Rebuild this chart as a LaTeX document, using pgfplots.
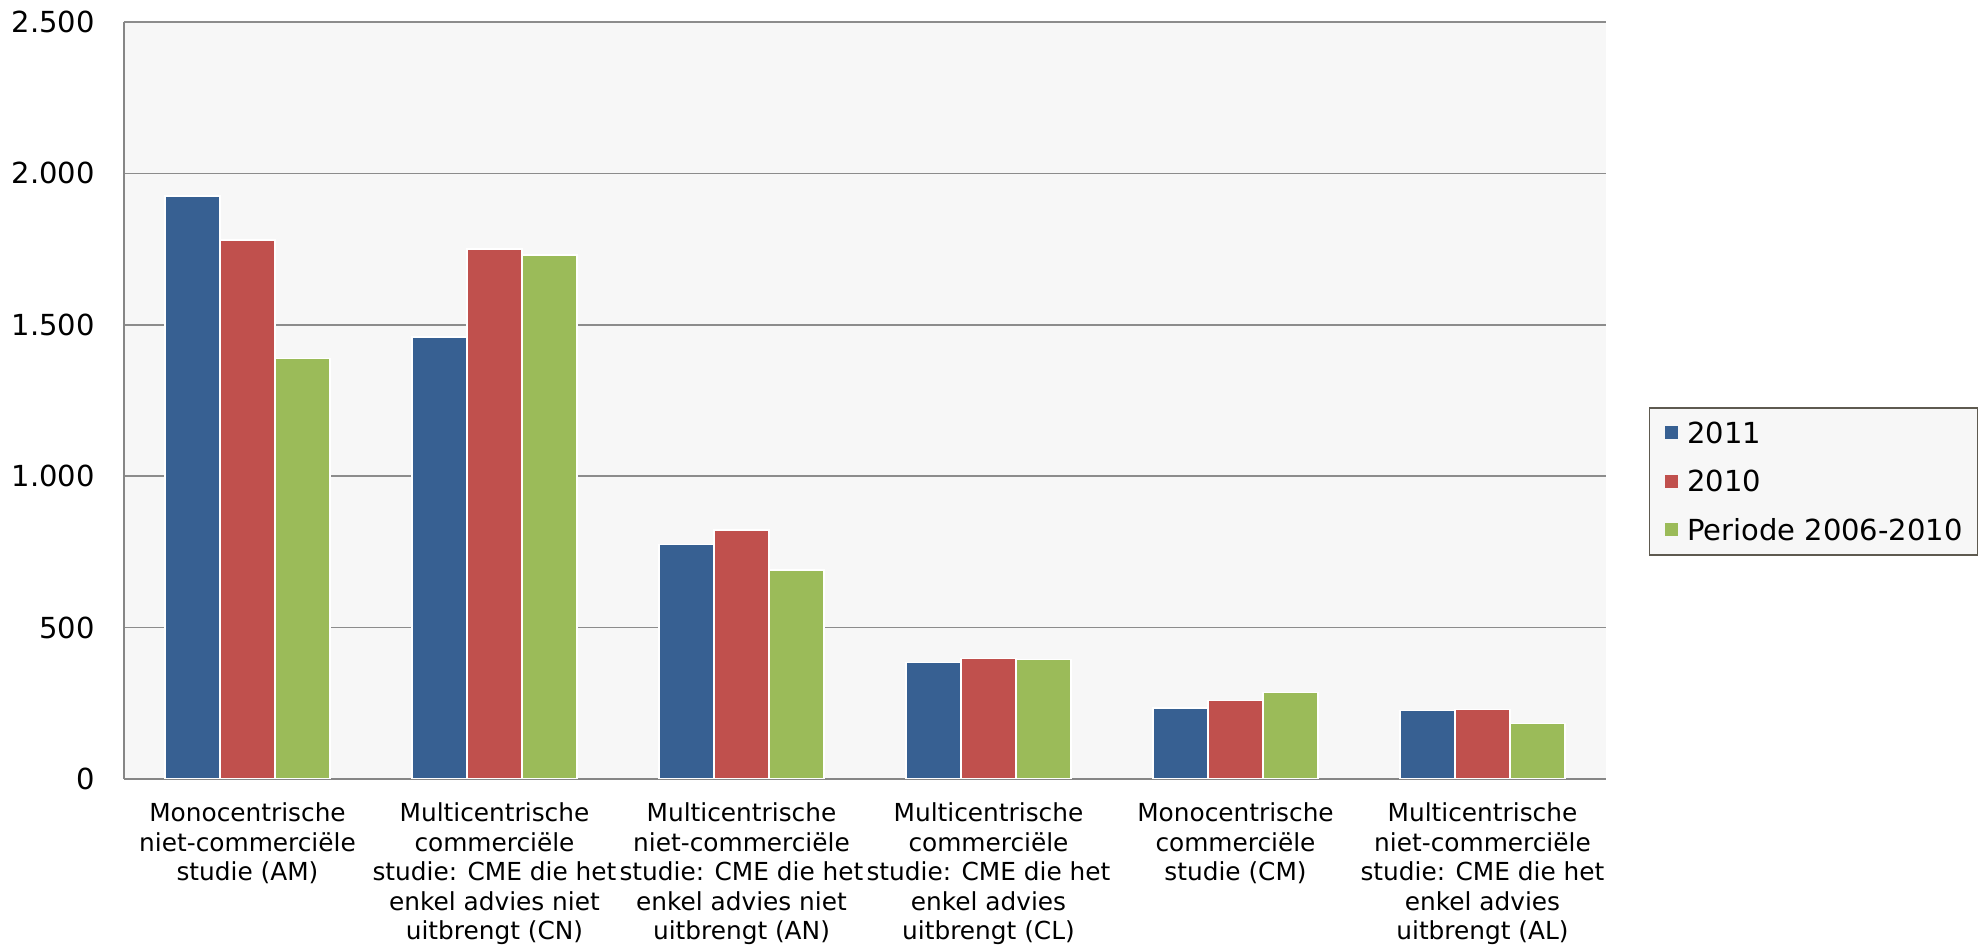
\documentclass[border=0pt]{standalone}
\usepackage{fontspec}
\setmainfont{DejaVu Sans}
\usepackage{pgfplots}
\pgfplotsset{compat=1.18}

\definecolor{cOne}{RGB}{55,96,146}
\definecolor{cTwo}{RGB}{192,80,77}
\definecolor{cThree}{RGB}{155,187,89}
\definecolor{bgcol}{RGB}{247,247,247}
\definecolor{gridgray}{RGB}{140,140,140}
\definecolor{axisgray}{RGB}{134,134,134}
\definecolor{legendborder}{RGB}{94,90,80}

\begin{document}
\begin{tikzpicture}
\begin{axis}[
  at={(0pt,0pt)}, anchor=south west,
  scale only axis, width=741pt, height=378.5pt,
  ybar=0pt, bar width=27.5pt,
  xmin=-0.5, xmax=5.5, ymin=0, ymax=2500,
  ytick={0,500,1000,1500,2000,2500},
  xtick={0,1,2,3,4,5},
  xticklabels={
    {Monocentrische\\niet-commerciële\\studie (AM)},
    {Multicentrische\\commerciële\\studie: CME die het\\enkel advies niet\\uitbrengt (CN)},
    {Multicentrische\\niet-commerciële\\studie: CME die het\\enkel advies niet\\uitbrengt (AN)},
    {Multicentrische\\commerciële\\studie: CME die het\\enkel advies\\uitbrengt (CL)},
    {Monocentrische\\commerciële\\studie (CM)},
    {Multicentrische\\niet-commerciële\\studie: CME die het\\enkel advies\\uitbrengt (AL)}},
  ymajorgrids, grid style={draw=gridgray, line width=0.75pt},
  major tick length=0pt,
  axis x line*=bottom, axis y line*=left,
  x axis line style={-, draw=axisgray, line width=1.25pt},
  y axis line style={-, draw=axisgray, line width=0.9pt},
  axis background/.style={fill=bgcol},
  yticklabel style={font=\fontsize{14.5}{17}\selectfont, anchor=east, inner sep=0pt, xshift=-14.5pt},
  xticklabel style={font=\fontsize{12.4}{14.75}\selectfont, align=center, anchor=north, inner sep=0pt, yshift=-11.7pt},
  /pgf/number format/1000 sep={.},
  /pgf/number format/assume math mode=true,
  legend style={at={(1.029,0.4914)}, anchor=north west, draw=legendborder, fill=bgcol,
    line width=0.75pt, font=\fontsize{14.5}{17}\selectfont,
    inner xsep=7.5pt, inner ysep=7.2pt, row sep=13.65pt, column sep=4.5pt,
    nodes={inner sep=0pt, text height=10.6pt, text depth=0pt, anchor=west}},
  legend cell align=left,
  legend image code/.code={\fill[#1, draw=none] (0pt,-3.35pt) rectangle (6.7pt,3.35pt);},
]
\addplot[fill=cOne, draw=white, line width=0.75pt] coordinates {(0,1925) (1,1459) (2,775) (3,384) (4,235) (5,226)};
\addplot[fill=cTwo, draw=white, line width=0.75pt] coordinates {(0,1780) (1,1750) (2,822) (3,398) (4,259) (5,230)};
\addplot[fill=cThree, draw=white, line width=0.75pt] coordinates {(0,1388) (1,1731) (2,690) (3,394) (4,285) (5,184)};
\legend{2011,2010,Periode 2006-2010}
\end{axis}
\pgfresetboundingbox
\path[use as bounding box] (-62pt,-86pt) rectangle (929pt,389.5pt);
\end{tikzpicture}
\end{document}
